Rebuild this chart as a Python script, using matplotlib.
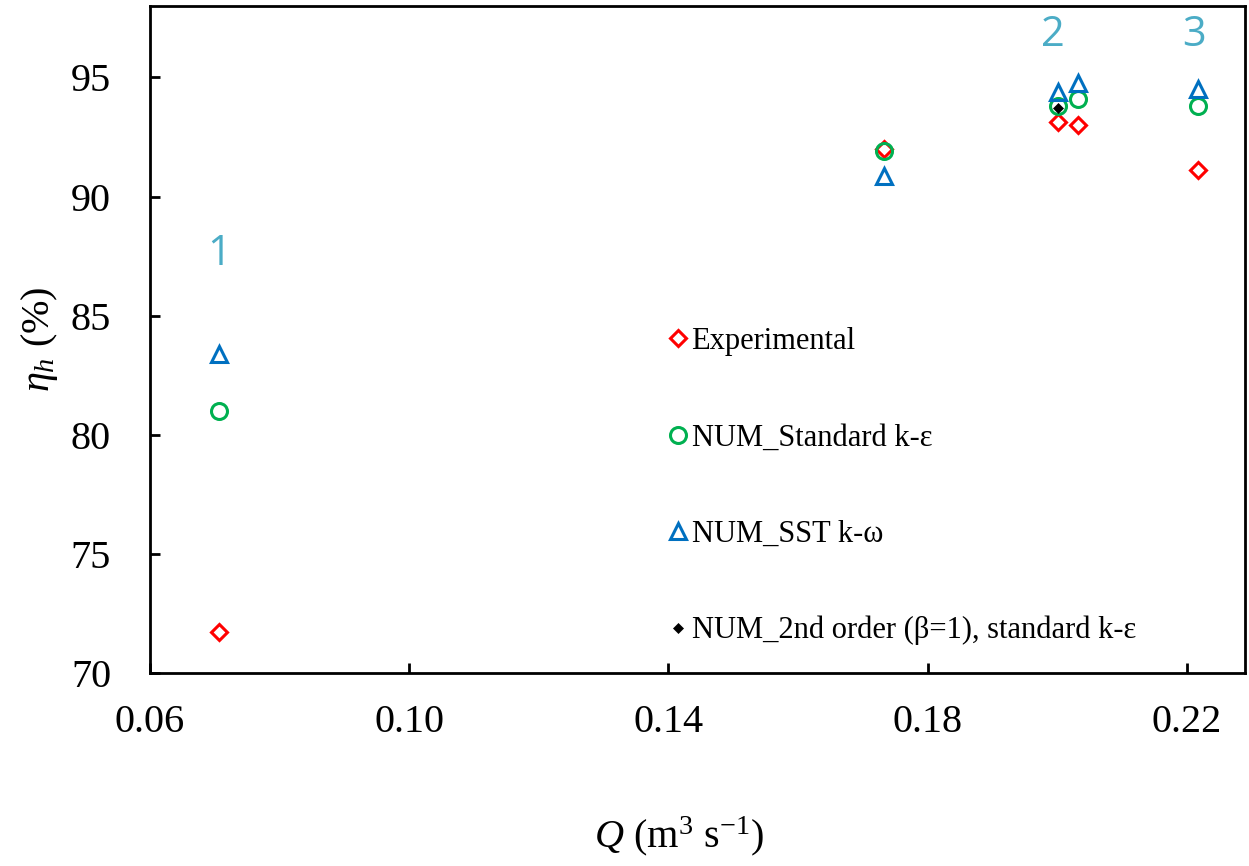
import matplotlib
matplotlib.use("Agg")
import matplotlib.pyplot as plt

# flow rate Q (m3/s) and hydraulic efficiency (%)
q = [0.0707, 0.1733, 0.2001, 0.2033, 0.2217]
eta_exp = [71.7, 92.0, 93.15, 93.0, 91.1]
eta_std_ke = [81.0, 91.9, 93.8, 94.1, 93.8]
eta_sst_kw = [83.4, 90.85, 94.4, 94.75, 94.5]
q_2nd = [0.2001]
eta_2nd = [93.7]

# operating point labels
op_labels = ["1", "2", "3"]
op_x = [0.0707, 0.1993, 0.2212]
op_y = [87.6, 96.8, 96.8]

xticks = [0.06, 0.10, 0.14, 0.18, 0.22]
yticks = [70, 75, 80, 85, 90, 95]

plt.rcParams["font.family"] = "Liberation Serif"
plt.rcParams["mathtext.fontset"] = "custom"
plt.rcParams["mathtext.rm"] = "Liberation Serif"
plt.rcParams["mathtext.it"] = "Liberation Serif:italic"

fig = plt.figure(figsize=(12.49, 8.66), dpi=100)
ax = fig.add_axes([0.1201, 0.2229, 0.8767, 0.7702])

ax.plot(q, eta_exp, linestyle="none", marker="D", ms=8, mfc="none",
        mec="#FF0000", mew=2.2, label="Experimental")
ax.plot(q, eta_std_ke, linestyle="none", marker="o", ms=11.5, mfc="none",
        mec="#00B050", mew=2.2, label="NUM_Standard k-ε")
ax.plot(q, eta_sst_kw, linestyle="none", marker="^", ms=11.5, mfc="none",
        mec="#0070C0", mew=2.2, label="NUM_SST k-ω")
ax.plot(q_2nd, eta_2nd, linestyle="none", marker="D", ms=5, mfc="black",
        mec="black", mew=0.5, label="NUM_2nd order (β=1), standard k-ε")

for lab, x, y in zip(op_labels, op_x, op_y):
    ax.text(x, y, lab, color="#4BACC6", fontsize=30, family="Open Sans",
            ha="center", va="center")

ax.set_xlim(0.06, 0.229)
ax.set_ylim(70, 98)
ax.set_xticks(xticks)
ax.set_xticklabels([f"{t:.2f}" for t in xticks])
ax.set_yticks(yticks)

for s in ax.spines.values():
    s.set_linewidth(2)
ax.tick_params(direction="in", length=7.5, width=2, labelsize=29)
ax.tick_params(axis="y", pad=28)
ax.tick_params(axis="x", pad=22)

ax.set_xlabel(r"$Q$ (m$^3$ s$^{-1}$)", fontsize=29)
ax.xaxis.set_label_coords(0.483, -0.212)
ax.set_ylabel(r"$\eta_h$ (%)", fontsize=29)
ax.yaxis.set_label_coords(-0.082, 0.5)

ax.legend(loc="upper left", bbox_to_anchor=(0.4722, 0.5185), frameon=False,
          fontsize=22, borderpad=0, borderaxespad=0, handlelength=0.7,
          handletextpad=0.1, labelspacing=2.2)

fig.savefig("out.png", dpi=100)
